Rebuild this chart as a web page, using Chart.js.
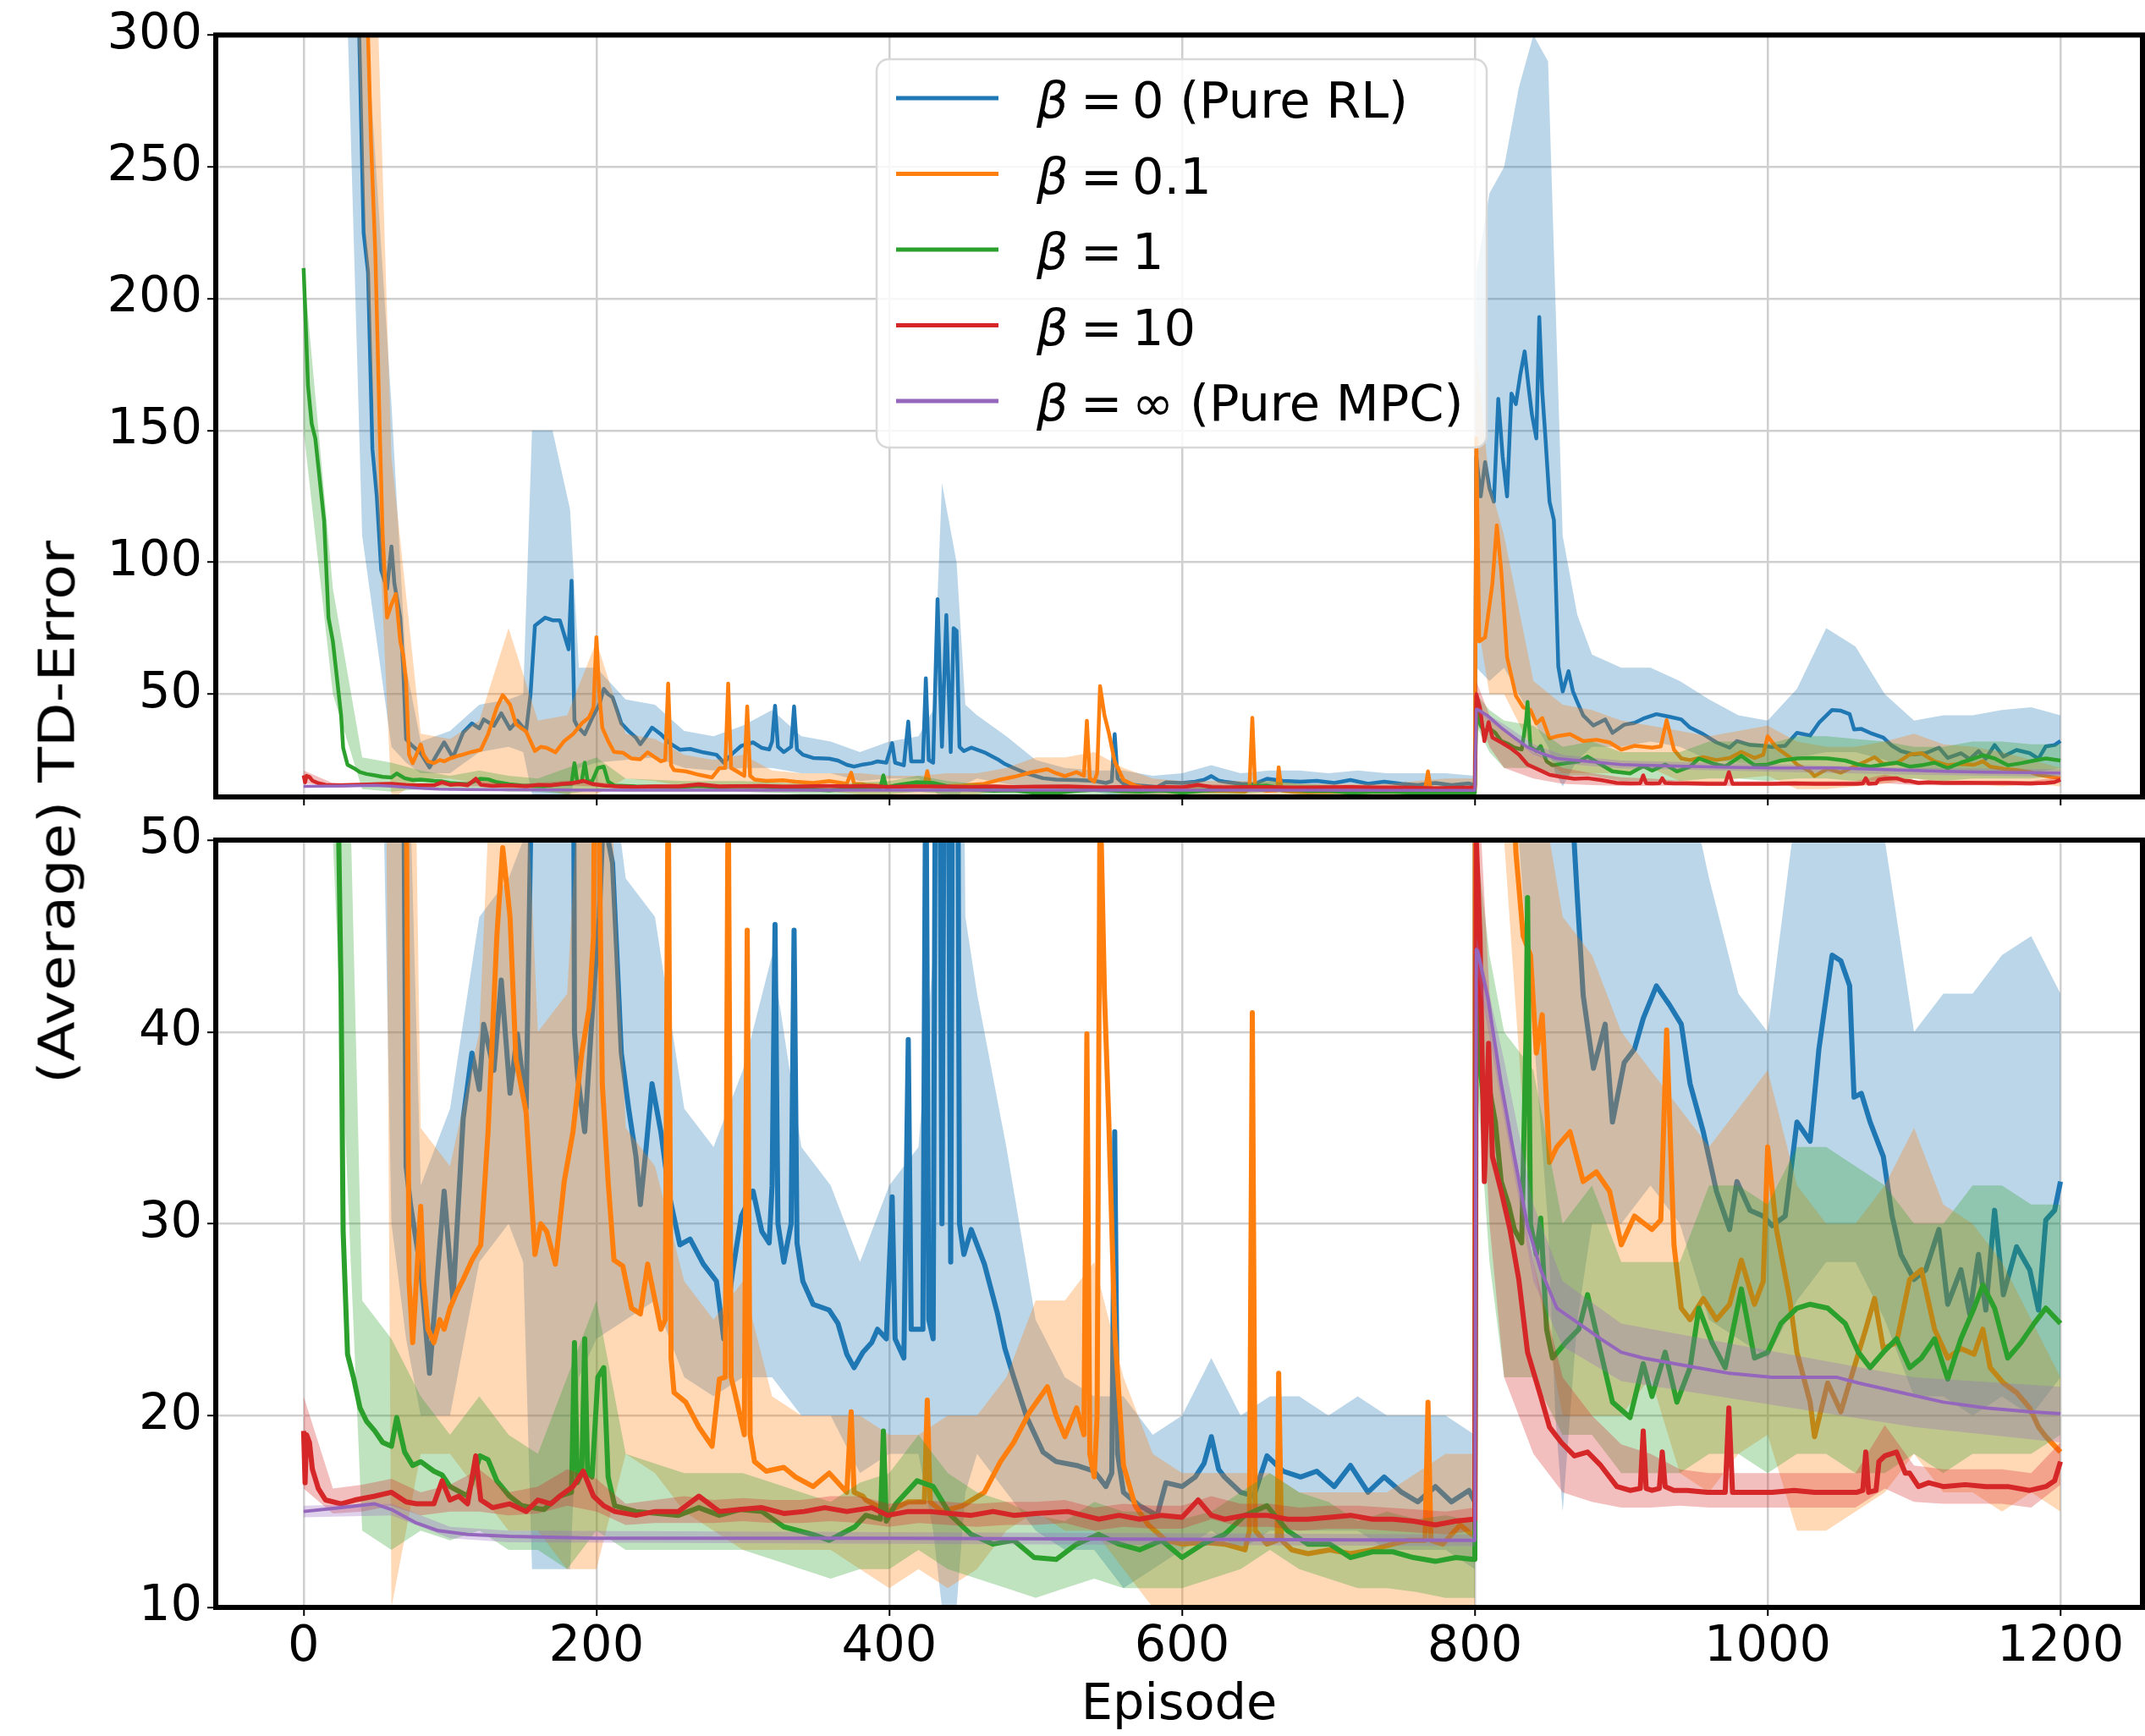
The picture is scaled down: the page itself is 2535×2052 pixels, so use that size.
<!DOCTYPE html>
<html><head><meta charset="utf-8">
<script src="https://cdn.jsdelivr.net/npm/chart.js@4.4.1/dist/chart.umd.min.js"></script>
<style>
html,body{margin:0;padding:0;background:#fff;}
#wrap{position:relative;width:2535px;height:2052px;overflow:hidden;background:#fff;}
#cTop{position:absolute;left:0;top:0;}
#cBot{position:absolute;left:0;top:940px;}
#ylab{position:absolute;left:67px;top:960px;font-family:'DejaVu Sans';font-size:59px;white-space:nowrap;line-height:1;color:#000;transform:translate(-50%,-50%) rotate(-90deg) scaleX(1.16);}
</style></head><body>
<div id="wrap">
<canvas id="cTop" width="2535" height="1000"></canvas>
<canvas id="cBot" width="2535" height="1112"></canvas>
<div id="ylab">(Average) TD-Error</div>
</div>
<script>
// ---------- tick values ----------
const xTickValues = [0, 200, 400, 600, 800, 1000, 1200];
const topYTicks = [50, 100, 150, 200, 250, 300];
const bottomYTicks = [10, 20, 30, 40, 50];
const legendValues = ['0', '0.1', '1', '10', '\u221E'];
const legendSuffix = [' (Pure RL)', '', '', '', ' (Pure MPC)'];
const seriesColors = ['#1f77b4', '#ff7f0e', '#2ca02c', '#d62728', '#9467bd'];
const bandColors = ['rgba(31,119,180,0.3)', 'rgba(255,127,14,0.3)', 'rgba(44,160,44,0.3)', 'rgba(214,39,40,0.3)', 'rgba(148,103,189,0.3)'];

// ---------- series: [episode, mean] ----------
const blueMean = [[0,900],[10,800],[20,650],[30,450],[38,300],[41,225],[44,210],[47,143],[50,125],[53,97],[57,90],[60,106],[62,92],[66,79],[68,60],[70,33],[73,31],[80,27.6],[86,22.2],[91,27],[96,31.7],[102,26],[109,35.5],[115,38.9],[120,37],[123,40.4],[130,38],[135,42.7],[141,36.8],[146,39.9],[152,36],[155,50],[158,76],[165,79],[170,78],[175,78],[181,67],[183,93],[185,40],[187,37.8],[192,34.8],[198,42],[202,46],[205,52],[208,50],[211,48.8],[214,44],[217,38.9],[222,36],[227,33.5],[230,31],[234,34],[238,37.3],[244,34.8],[250,31.4],[257,28.9],[264,29.2],[273,27.9],[282,27],[287,24],[293,27.5],[299,30.4],[307,31.7],[313,29.6],[318,29],[320,32],[322,45.6],[324,30],[328,28],[333,30],[335,45.3],[337,29],[341,27],[348,25.8],[359,25.5],[365,24.8],[371,23.2],[376,22.5],[382,23.3],[388,23.8],[392,24.5],[398,24],[402,31.4],[404,24],[410,23],[413,39.6],[415,24.5],[420,24.5],[423,24.5],[425,56],[427,25],[430,24],[433,86],[436,30],[439,80],[442,28],[444,75],[446,74],[448,30],[451,28.4],[456,29.7],[465,27.9],[474,25.3],[479,23.5],[485,22],[494,19.9],[505,18.1],[514,17.6],[528,17.4],[540,17.1],[548,16.3],[552,17],[554,34.8],[556,18],[560,16],[571,15.3],[583,14.8],[589,16.5],[600,16.3],[609,16.8],[615,17.5],[620,18.9],[625,17.2],[629,16.8],[640,16],[649,15.8],[658,17.9],[669,17.1],[681,16.8],[692,17.1],[704,16.3],[715,17.4],[727,16],[738,16.8],[750,16],[761,15.5],[773,16.3],[784,15.5],[796,16.1],[800,15.5],[801,140],[804,125],[807,138],[810,128],[813,123],[816,162],[819,140],[822,125],[825,164],[828,160],[831,171],[834,180],[837,165],[839,156],[842,147],[844,193],[846,165],[848,149],[851,123],[854,116],[857,60.5],[860,51],[864,58.7],[867,51],[870,47],[874,41.9],[881,38.1],[889,40.4],[894,35.3],[902,38.4],[909,39.1],[915,40.7],[924,42.4],[933,41.4],[941,40.4],[947,37.3],[956,34.8],[965,31.7],[974,29.7],[979,32.2],[988,30.7],[997,30.4],[1003,29.9],[1012,30.4],[1020,35.3],[1029,34.3],[1035,39.1],[1044,44],[1050,43.7],[1056,42.4],[1059,36.6],[1064,36.8],[1070,35.3],[1079,33.5],[1085,30.4],[1091,28.4],[1100,27.1],[1108,27.6],[1117,29.7],[1123,25.8],[1132,27.6],[1138,25.3],[1144,28.4],[1149,25.5],[1155,30.7],[1161,26.3],[1170,28.8],[1179,27.6],[1185,25.5],[1190,30.2],[1196,30.7],[1200,32.2]];

const orangeMean = [[0,1000],[20,800],[40,380],[46,260],[49,217],[52,150],[54,110],[57,79],[60,84],[63,88],[66,70],[68,65],[70,55],[72,27],[74.5,23.8],[77,27],[80,30.9],[82,27],[85,24.5],[89,23.8],[93,25],[96,24.5],[100,25.6],[105,26.5],[109,27.1],[115,28.1],[121,28.9],[126,34.8],[132,45],[136,49.6],[141,46],[145,38.6],[152,35.8],[158,28.4],[162,30],[166,29.6],[172,27.9],[178,32.2],[184,34.8],[190,38.9],[195,41.2],[198,45],[200,71.6],[202,50],[204,37.3],[208,32.2],[212,28.1],[218,27.8],[224,25.6],[230,25.3],[235,27.9],[244,24.5],[247,25],[249,54],[251,23],[253,21.2],[261,20.7],[270,19.4],[279,18.4],[284,21.9],[288,22],[290,54],[292,22],[296,20.7],[301,19],[303,45.3],[305,19],[308,17.6],[316,17.1],[328,17.3],[336,16.8],[348,16.3],[359,17],[371,16],[374,20.2],[376,16],[382,15.8],[384,15.6],[399,15],[413,15.5],[424,15.5],[426,20.8],[428,15.5],[436,15],[450,15.3],[465,16],[476,17.6],[485,18.6],[496,20.2],[508,21.5],[514,20],[520,18.9],[528,20.4],[533,19],[535,39.9],[537,18],[540,16.8],[542,20],[544,53],[547,42],[550,35.3],[554,24.5],[560,17.4],[568,15.3],[577,14.3],[589,13.5],[600,13.3],[614,13.4],[629,13.3],[643,13],[646,14],[648,41],[650,14],[658,13.3],[665,13.5],[666,22.2],[668,13.5],[675,13],[686,12.8],[701,13],[715,12.8],[730,13],[744,13.3],[755,13.5],[766,13.5],[768,20.7],[770,13.5],[778,13.3],[790,14.3],[798,13.8],[800,13.8],[801,147],[803,70],[807,71.5],[812,92],[815,114],[818,97],[822,64],[828,49.4],[833,45],[838,44],[842,38.9],[846,40.9],[851,33.2],[856,34],[865,34.8],[874,32.2],[883,32.7],[892,31.7],[900,28.9],[909,30.4],[921,29.7],[927,30.2],[931,40.1],[936,28.9],[941,25.6],[947,25],[956,26.1],[965,25],[974,25.8],[982,28.1],[991,25.8],[997,27],[1000,34],[1006,29.7],[1015,26.1],[1020,23.3],[1029,20.7],[1032,18.9],[1041,21.7],[1050,20.2],[1059,22.5],[1067,24.5],[1073,26.1],[1079,23.5],[1088,23.8],[1097,27.1],[1105,27.6],[1114,24.5],[1123,23],[1132,23.5],[1141,23.2],[1147,24.5],[1152,22.5],[1161,21.7],[1170,21.2],[1179,20.4],[1185,19.4],[1190,18.9],[1200,18.1]];

const greenMean = [[0,211.6],[3,167],[5.5,152.6],[8,147],[14,115.8],[17,79],[20,70],[23,55],[25.6,42],[27,29.6],[30,23.2],[34,22],[38.5,20.4],[43,19.7],[48.6,19.2],[54,18.6],[60,18.4],[63.6,19.9],[69,18.1],[74.5,17.4],[80,17.6],[89,17.1],[94.6,16.9],[100,16.3],[112,15.8],[120.5,17.9],[126,17.7],[132,16.6],[140.6,15.8],[149,15.3],[164,15.1],[175,15.8],[183,16],[185,23.8],[187,16.5],[190,17],[192,24],[194,17],[197,16.8],[201,22],[205,22.5],[208,16.8],[212.5,15.3],[227,15],[256,14.8],[270,15.2],[284,14.8],[298,15.1],[313,15],[328,14.2],[348,13.8],[359,13.5],[376.5,14.2],[384,14.8],[394,14.6],[396,19.2],[398,14.5],[404.5,15.4],[419,16.6],[430,16.3],[442,14.8],[456,13.8],[471,13.3],[485,13.5],[499,12.6],[514,12.5],[528,13.3],[543,13.8],[557,13.3],[571,13],[586,13.5],[600,12.6],[614,13.3],[629,13.8],[643,14.8],[658,15.3],[672,14],[686,13.3],[701,13.3],[715,12.6],[730,12.9],[744,12.9],[758,12.6],[773,12.4],[787,12.6],[799,12.5],[800,12.5],[801,44],[804,38],[806.5,35.8],[810,37],[814,35.3],[818,32.2],[823,31],[827,29.7],[832,29],[835,40],[836,47],[838,30],[842,28.4],[845,30.3],[849,24.5],[853,23],[862,23.8],[871,24.5],[877,26.3],[886,23.3],[894,20.7],[906,19.9],[915,22.7],[921,21],[930,23.3],[938,20.7],[947,22.5],[953,25.6],[962,23.8],[971,22.5],[982,26.6],[991,23],[1000,23.3],[1009,24.8],[1020,25.6],[1029,25.8],[1041,25.6],[1053,24.8],[1062,23.3],[1070,22.5],[1079,23.3],[1088,24],[1097,22.5],[1105,23],[1114,24],[1123,21.9],[1132,24],[1141,25.6],[1147,26.8],[1155,25.6],[1164,23],[1173,23.8],[1182,24.8],[1190,25.6],[1200,24.8]];

const redMean = [[0,19.2],[1,16.5],[2,19],[4,18.6],[6,17.2],[10,16.2],[15,15.6],[25.6,15.4],[35,15.6],[48.6,15.8],[60,16],[70,15.5],[77,15.4],[89,15.4],[94.6,16.6],[100,15.6],[106,15.8],[112,15.4],[117.6,17.9],[121,15.6],[129,15.2],[140.6,15.4],[152,15],[160,15.6],[169,15.4],[175,15.8],[184,16.3],[191,17.1],[198,15.8],[205,15.3],[212.5,15],[227,14.8],[240,15],[256,15],[270,15.8],[284,15],[298,15.1],[313,15.2],[328,14.9],[342,15],[356,15.2],[371,15],[388,15.2],[399,14.8],[413,15],[427.5,15],[442,14.9],[456,14.8],[471,15],[485,14.8],[500,14.9],[522,15],[543,14.6],[557,14.8],[571,14.6],[586,14.8],[600,14.7],[611,15.6],[620,14.8],[629,14.6],[643,14.8],[658,14.8],[672,14.6],[686,14.6],[701,14.7],[715,14.8],[730,14.6],[744,14.6],[758,14.5],[773,14.3],[787,14.5],[799,14.6],[800,14.6],[801,50],[803.5,45],[806.5,32.2],[809.4,39.4],[812,33.5],[818,31.7],[824,29.7],[830,27.1],[836,23.3],[845,21],[851,19.4],[859,18.6],[868,17.9],[877,18.1],[886,17.4],[897,16.3],[906,16.1],[913,16.2],[915,19.2],[917,16.2],[921,16.1],[926,16.2],[928,18.1],[930,16.3],[936,16.1],[945,16.1],[959,16],[971,16],[973.5,20.4],[976,16],[990,16],[1003,16],[1018,16.1],[1032,16],[1047,16],[1061,16],[1065,16.1],[1067,18.1],[1069,16],[1074,16.1],[1076,17.6],[1080,17.9],[1088,18.1],[1094,17],[1097,17],[1103,16.3],[1110,16.5],[1120,16.3],[1135,16.4],[1149,16.3],[1164,16.3],[1179,16.1],[1190,16.3],[1196,16.6],[1200,17.6]];

const purpleMean = [[0,15],[25.6,15.2],[48.6,15.4],[60,15.1],[77,14.4],[92,14],[112,13.8],[140.6,13.7],[200,13.6],[400,13.6],[600,13.55],[800,13.5],[801,44.3],[802,44.2],[809,41.7],[818,37.3],[827,33.5],[836,29.9],[845,27.6],[856,25.6],[871,24.8],[886,24],[900,23.3],[915,23],[944,22.6],[974,22.2],[1003,22],[1047,22],[1062,21.7],[1091,21.2],[1120,20.7],[1149,20.4],[1179,20.2],[1200,20.1]];

// ---------- shaded bands: [episode, lower, upper] ----------
const blueBand = [[0,700,1100],[20,500,800],[40,110,330],[60,30,160],[70,24,60],[80,20,32],[100,20,36],[120,28,46],[140,30,48],[150,28,50],[156,12,150],[170,12,150],[182,12,120],[188,22,60],[200,24,60],[220,25,48],[240,26,46],[260,22,36],[280,21,34],[300,22,38],[320,22,44],[340,20,34],[360,20,32],[380,17,28],[400,18,32],[420,18,34],[430,14,44],[436,10,130],[446,10,100],[452,16,46],[460,18,42],[480,16,34],[500,14,25],[520,13,22],[540,13,21],[560,11,21],[580,12,19],[600,13,20],[620,14,23],[640,13,20],[660,14,21],[680,14,21],[700,14,20],[720,14,21],[740,13,20],[760,13,20],[780,13,20],[800,12,19],[801,60,210],[810,55,240],[820,60,250],[830,50,280],[840,40,300],[850,30,290],[855,20,200],[860,15,110],[870,25,80],[880,30,65],[900,30,60],[920,32,60],[940,30,55],[960,25,48],[980,24,42],[1000,23,40],[1020,26,52],[1040,28,75],[1060,28,68],[1080,25,50],[1100,21,40],[1120,21,42],[1140,20,42],[1160,21,44],[1180,20,45],[1200,22,42]];

const orangeBand = [[0,800,1200],[20,600,1000],[40,250,500],[60,10,140],[80,18,35],[100,18,33],[120,16,40],[140,14,75],[160,14,40],[180,12,42],[200,12,70],[220,18,35],[240,17,33],[260,15,27],[280,14,25],[300,13,27],[320,13,21],[340,13,20],[360,13,20],[380,12,20],[400,11,19],[420,12,19],[440,11,20],[460,12,20],[480,14,22],[500,15,26],[520,14,26],[540,14,28],[560,12,22],[580,10,18],[600,10,17],[620,10,17],[640,10,17],[660,10,17],[680,10,16],[700,10,16],[720,10,16],[740,10,16],[760,10,17],[780,10,18],[800,10,18],[801,80,180],[810,50,130],[820,50,110],[840,28,55],[860,20,46],[880,20,44],[900,20,40],[920,22,38],[940,17,36],[960,16,34],[980,18,36],[1000,19,38],[1020,14,32],[1040,14,30],[1060,15,30],[1080,16,32],[1100,18,35],[1120,16,31],[1140,16,30],[1160,15,28],[1180,16,25],[1200,15,22]];

const greenBand = [[0,150,212],[20,50,90],[40,14,26],[60,13,24],[80,14,21],[100,13.5,19],[120,14,21],[140,13,19],[160,13,18],[180,12,22],[200,14,26],[220,13,18],[240,13,17.5],[260,13,17],[280,13,17],[300,13,17],[320,12.5,16.5],[340,12,16],[360,11.5,15.5],[380,12,16.5],[400,12,17],[420,13,19],[440,12,17],[460,11.5,16],[480,11,15.5],[500,10.5,14.8],[520,11,14.5],[540,11.5,15.5],[560,11,15],[580,11,15],[600,11,14.6],[620,11.5,15],[640,12,16],[660,13,17],[680,12,16],[700,11.5,15.5],[720,11,14.5],[740,11,15],[760,10.8,14.6],[780,10.5,14.8],[800,10.5,14.5],[801,38,50],[810,28,44],[820,22,40],[840,22,38],[860,19,30],[880,19,32],[900,17,28],[920,17,28],[940,17,28],[960,18,32],[980,18,32],[1000,17,31],[1020,18,34],[1040,18,34],[1060,17,33],[1080,17,32],[1100,18,30],[1120,17,30],[1140,18,32],[1160,18,32],[1180,18,31],[1200,19,31]];

const redBand = [[0,16.2,21],[20,14.9,16.2],[40,15,16.4],[60,15.3,16.7],[80,14.8,16],[100,15,16.4],[120,15,17.2],[140,14.8,16],[160,14.9,16.3],[180,15.3,17.2],[200,15,16.7],[220,14.3,15.4],[240,14.4,15.6],[260,14.4,15.8],[280,14.4,15.6],[300,14.5,15.7],[320,14.4,15.6],[340,14.4,15.6],[360,14.5,15.8],[380,14.4,15.8],[400,14.2,15.4],[420,14.4,15.6],[440,14.3,15.5],[460,14.2,15.4],[480,14.3,15.5],[500,14.3,15.5],[520,14.4,15.6],[540,14,15.2],[560,14.2,15.4],[580,14.1,15.3],[600,14.1,15.3],[620,14.6,15.8],[640,14.2,15.4],[660,14.2,15.4],[680,14,15.2],[700,14.1,15.3],[720,14.1,15.3],[740,14,15.2],[760,13.9,15.1],[780,13.8,15],[800,14,15.2],[801,44,55],[810,30,42],[820,22,36],[840,18,28],[860,16,22],[880,15.5,20],[900,15.2,18.5],[920,15.2,18],[940,15.3,17.2],[960,15.2,17],[980,15.2,17],[1000,15.2,17],[1020,15.2,17],[1040,15.2,17],[1060,15.2,17],[1080,16.2,19.5],[1100,15.5,17.4],[1120,15.4,17.2],[1140,15.4,17.2],[1160,15.4,17.2],[1180,15.2,17],[1200,16.4,18.6]];

const purpleBand = [[0,14.7,15.3],[60,14.8,15.4],[100,13.6,14.2],[140,13.4,14],[800,13.2,13.8],[801,43.5,45],[820,35.5,38.5],[840,27,31],[860,23.6,27],[900,21.8,24.8],[1000,20.6,23.4],[1100,19.4,22],[1200,18.6,21.5]];

const seriesMeans = [blueMean, orangeMean, greenMean, redMean, purpleMean];
const seriesBands = [blueBand, orangeBand, greenBand, redBand, purpleBand];

// ---------- chart building ----------
const FONT = "'DejaVu Sans'";
Chart.defaults.font.family = FONT;
Chart.defaults.font.size = 59;
Chart.defaults.color = '#000';

function buildDatasets(lw, lwPurple) {
  const ds = [];
  seriesMeans.forEach((mean, i) => {
    const band = seriesBands[i];
    const base = 100 - i * 10;
    ds.push({data: band.map(p => ({x: p[0], y: p[2]})), borderColor: 'rgba(0,0,0,0)', borderWidth: 0,
             pointRadius: 0, fill: false, order: base + 2});
    ds.push({data: band.map(p => ({x: p[0], y: p[1]})), borderColor: 'rgba(0,0,0,0)', borderWidth: 0,
             pointRadius: 0, fill: '-1', backgroundColor: bandColors[i], order: base + 1});
    ds.push({data: mean.map(p => ({x: p[0], y: p[1]})), borderColor: seriesColors[i],
             borderWidth: i === 4 ? lwPurple : lw, pointRadius: 0, fill: false, order: base,
             borderJoinStyle: 'round', tension: 0});
  });
  return ds;
}

const gridOpts = {color: '#cfcfcf', lineWidth: 2.5, tickColor: '#000', tickLength: 10, tickWidth: 2, drawTicks: true};

const framePlugin = {
  id: 'frame',
  afterDraw(chart) {
    const {ctx, chartArea: a} = chart;
    ctx.save();
    ctx.strokeStyle = '#000';
    ctx.lineWidth = 6;
    ctx.strokeRect(a.left, a.top, a.right - a.left, a.bottom - a.top);
    ctx.restore();
  }
};

const legendPlugin = {
  id: 'legendBox',
  afterDatasetsDraw(chart) {
    const ctx = chart.ctx;
    ctx.save();
    ctx.beginPath();
    ctx.roundRect(1036, 70, 721, 459, 14);
    ctx.fillStyle = 'rgba(255,255,255,0.82)';
    ctx.fill();
    ctx.lineWidth = 2.5;
    ctx.strokeStyle = '#d8d8d8';
    ctx.stroke();
    for (let i = 0; i < 5; i++) {
      const y = 116 + i * 89.5;
      ctx.beginPath();
      ctx.moveTo(1059, y); ctx.lineTo(1180, y);
      ctx.strokeStyle = seriesColors[i];
      ctx.lineWidth = 5;
      ctx.stroke();
      ctx.fillStyle = '#000';
      ctx.textBaseline = 'alphabetic';
      ctx.textAlign = 'left';
      ctx.font = 'oblique 59px ' + FONT;
      ctx.fillText('\u03B2', 1225, y + 23);
      ctx.font = '59px ' + FONT;
      ctx.fillText('=', 1277, y + 23);
      ctx.fillText(legendValues[i] + legendSuffix[i], 1338, y + 23);
    }
    ctx.restore();
  }
};

function xScale(showLabels, height) {
  return {
    type: 'linear', min: -60, max: 1256,
    afterBuildTicks: sc => { sc.ticks = xTickValues.map(v => ({value: v})); },
    ticks: {display: showLabels, padding: 2, font: {size: 59}, color: '#000', maxRotation: 0,
            callback: v => String(v)},
    grid: gridOpts,
    border: {display: false},
    title: showLabels ? {display: true, text: 'Episode', font: {size: 59}, color: '#000', padding: {top: 0, bottom: 0}} : {display: false},
    afterFit: sc => { sc.height = height; }
  };
}

function yScale(min, max, ticks) {
  return {
    type: 'linear', min: min, max: max,
    afterBuildTicks: sc => { sc.ticks = ticks.map(v => ({value: v})); },
    ticks: {padding: 6, font: {size: 59}, color: '#000', callback: v => String(v)},
    grid: gridOpts,
    border: {display: false},
    afterFit: sc => { sc.width = 255; }
  };
}

const commonOpts = {
  responsive: false, animation: false, devicePixelRatio: 1, events: [],
  plugins: {legend: {display: false}, tooltip: {enabled: false}}
};

new Chart(document.getElementById('cTop'), {
  type: 'line',
  data: {datasets: buildDatasets(4.5, 3.5)},
  options: Object.assign({}, commonOpts, {
    layout: {padding: {top: 36, right: 3, left: 0, bottom: 0}},
    scales: {x: xScale(false, 58), y: yScale(11, 300, topYTicks)}
  }),
  plugins: [legendPlugin, framePlugin]
});

new Chart(document.getElementById('cBot'), {
  type: 'line',
  data: {datasets: buildDatasets(6, 4)},
  options: Object.assign({}, commonOpts, {
    layout: {padding: {top: 53, right: 3, left: 0, bottom: 0}},
    scales: {x: xScale(true, 152), y: yScale(10, 50, bottomYTicks)}
  }),
  plugins: [framePlugin]
});
</script>
</body></html>
